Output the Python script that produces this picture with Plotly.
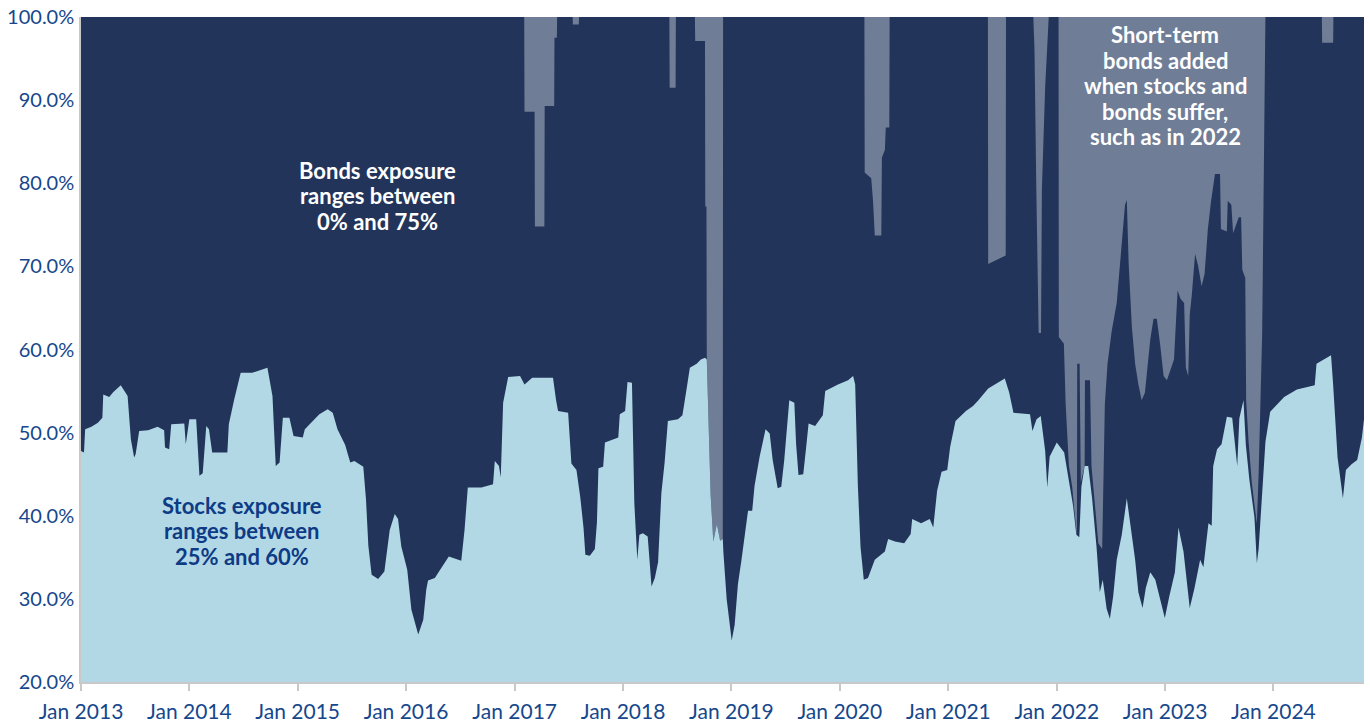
import plotly.graph_objects as go

# ---- Stocks exposure (% of portfolio) ----
stock_dates = [
    "2013-01-01","2013-01-11","2013-01-15","2013-02-05","2013-02-27","2013-03-14","2013-03-17","2013-04-06","2013-04-20","2013-05-15",
    "2013-06-07","2013-06-18","2013-06-29","2013-07-04","2013-07-16","2013-08-15","2013-09-16","2013-10-08","2013-10-11","2013-10-25",
    "2013-11-01","2013-12-15","2013-12-20",
    "2014-01-01","2014-01-24","2014-02-04","2014-02-15","2014-02-27","2014-03-08","2014-03-19","2014-05-09","2014-05-14","2014-06-01",
    "2014-06-23","2014-08-01","2014-09-21","2014-10-08","2014-10-19","2014-11-01","2014-11-12","2014-12-04","2014-12-18",
    "2015-01-18","2015-01-25","2015-03-15","2015-04-12","2015-04-29","2015-05-15","2015-06-10","2015-06-27","2015-07-11","2015-08-10",
    "2015-08-19","2015-08-27","2015-09-07","2015-09-29","2015-10-20","2015-11-07","2015-11-24","2015-12-05","2015-12-16","2015-12-26",
    "2016-01-05","2016-01-19","2016-02-11","2016-02-28","2016-03-09","2016-03-15","2016-04-07","2016-04-21","2016-05-24","2016-07-05",
    "2016-07-16","2016-07-27","2016-09-11","2016-10-20","2016-10-26","2016-11-09","2016-11-15","2016-11-23","2016-12-10",
    "2017-01-19","2017-02-03","2017-03-01","2017-05-10","2017-05-20","2017-05-27","2017-06-30","2017-07-11","2017-07-28","2017-08-10",
    "2017-08-21","2017-08-27","2017-09-11","2017-09-28","2017-10-05","2017-10-10","2017-10-26","2017-11-01","2017-12-16","2017-12-21",
    "2018-01-08","2018-01-16","2018-01-31","2018-02-08","2018-02-18","2018-02-25","2018-03-09","2018-03-25","2018-04-07","2018-04-18",
    "2018-04-29","2018-05-10","2018-05-21","2018-06-01","2018-07-05","2018-07-20","2018-08-01","2018-08-14","2018-09-06","2018-09-20",
    "2018-10-04","2018-10-10","2018-10-23","2018-11-01","2018-11-13","2018-11-24","2018-12-03","2018-12-05","2018-12-16","2018-12-22",
    "2019-01-02","2019-01-12","2019-01-23","2019-02-04","2019-02-15","2019-02-26","2019-03-12","2019-03-20","2019-04-06","2019-04-26",
    "2019-05-10","2019-05-20","2019-06-06","2019-06-18","2019-06-28","2019-07-08","2019-07-15","2019-08-01","2019-08-07","2019-08-15",
    "2019-08-31","2019-09-10","2019-09-18","2019-10-10","2019-11-05","2019-11-13","2019-12-26",
    "2020-01-29","2020-02-15","2020-02-22","2020-03-02","2020-03-11","2020-03-22","2020-04-05","2020-04-28","2020-06-01","2020-06-12",
    "2020-07-05","2020-08-05","2020-08-27","2020-09-01","2020-10-01","2020-10-30","2020-11-11","2020-11-24","2020-12-09","2020-12-28",
    "2021-01-07","2021-01-25","2021-03-01","2021-03-25","2021-04-12","2021-05-15","2021-07-10","2021-07-25","2021-08-08","2021-10-03",
    "2021-10-11","2021-10-25","2021-11-08","2021-11-23","2021-11-30","2021-12-08","2022-01-01",
    "2022-01-26","2022-02-10","2022-02-25","2022-03-08","2022-03-18","2022-03-25","2022-04-05","2022-04-17","2022-04-30","2022-05-15",
    "2022-05-26","2022-06-05","2022-06-18","2022-06-29","2022-07-10","2022-07-22","2022-08-08","2022-08-25","2022-09-05","2022-09-22",
    "2022-10-03","2022-10-17","2022-10-28","2022-11-12","2022-11-29","2022-12-15","2022-12-31",
    "2023-01-15","2023-02-03","2023-02-15","2023-03-04","2023-03-25","2023-04-10","2023-04-29","2023-05-10","2023-05-27","2023-06-07",
    "2023-06-12","2023-06-25","2023-07-10","2023-07-28","2023-08-15","2023-08-25","2023-09-01","2023-09-08","2023-09-22","2023-09-30",
    "2023-10-12","2023-10-29","2023-11-06","2023-11-12","2023-11-23","2023-12-05","2023-12-21",
    "2024-02-06","2024-03-20","2024-05-19","2024-05-25","2024-07-13","2024-07-20","2024-08-04","2024-08-22","2024-09-01","2024-09-20",
    "2024-10-09","2024-10-25","2024-11-01",
]
stock_pct = [
    47.8,47.6,50.4,50.7,51.2,51.8,54.6,54.3,54.9,55.7,
    54.4,49.2,47.0,47.4,50.2,50.3,50.7,50.3,48.2,48.0,
    51.0,51.1,48.6,
    51.6,51.6,44.8,45.1,50.8,50.4,47.6,47.6,51.0,54.0,
    57.2,57.2,57.8,54.4,46.0,46.4,51.8,51.8,49.6,
    49.4,50.4,52.2,52.8,52.4,50.4,48.5,46.4,46.6,45.9,
    42.0,36.4,32.9,32.4,33.3,38.3,40.2,39.6,36.3,34.7,
    33.5,28.7,25.7,27.5,31.1,32.2,32.5,33.3,35.1,34.6,
    38.3,43.4,43.4,43.8,46.6,46.0,44.6,53.6,56.7,
    56.8,55.8,56.6,56.6,54.0,52.6,52.4,46.3,45.5,42.2,
    38.5,35.3,35.2,36.0,39.2,45.7,45.9,48.8,49.4,52.2,
    52.6,56.1,56.0,41.5,34.7,37.7,37.9,37.5,31.5,32.5,
    34.4,42.7,46.4,51.4,51.6,52.1,54.8,57.8,58.3,58.8,
    59.0,58.8,42.5,36.9,39.0,37.0,37.2,35.6,30.0,28.4,
    25.0,26.9,31.8,34.7,37.9,40.6,40.6,43.6,47.1,50.4,
    49.9,46.7,43.3,43.5,46.7,50.4,53.9,53.6,48.6,44.9,
    45.0,48.3,51.1,50.8,52.1,55.0,55.8,
    56.3,56.8,55.8,43.6,36.2,32.3,32.5,34.7,35.7,37.2,
    36.9,36.7,37.8,39.6,39.1,39.6,38.6,43.0,45.3,45.5,
    48.3,51.4,52.6,53.2,53.9,55.3,56.5,54.8,52.4,52.2,
    50.2,51.6,52.0,47.8,43.4,47.1,48.8,
    47.6,44.4,41.2,37.7,37.4,43.5,46.0,46.0,42.1,36.2,
    30.8,32.3,28.8,27.6,30.3,34.7,37.7,42.1,39.1,34.7,
    30.8,28.9,31.3,33.2,32.3,29.8,27.7,
    30.3,33.2,38.6,35.7,28.9,31.3,34.7,33.8,39.1,38.8,
    46.0,48.0,48.6,51.9,51.8,48.4,46.0,51.7,53.9,48.5,
    44.3,39.8,34.3,36.0,42.8,48.9,52.5,
    54.3,55.2,55.7,58.3,59.3,55.8,47.0,42.1,45.5,46.2,
    46.7,49.4,51.6,
]

# ---- Short-term bonds exposure (% of portfolio) ----
st_dates = [
    "2013-01-01",
    "2017-02-02","2017-02-03","2017-03-09","2017-03-10","2017-04-11","2017-04-12","2017-05-14","2017-05-15","2017-05-23","2017-05-24",
    "2017-07-15","2017-07-16","2017-08-05","2017-08-06",
    "2018-06-06","2018-06-07","2018-06-27","2018-06-28",
    "2018-08-31","2018-09-01","2018-10-04","2018-10-05","2018-10-09","2018-10-10","2018-10-23","2018-11-01","2018-11-13","2018-11-24",
    "2018-12-03","2018-12-04",
    "2020-03-24","2020-03-25","2020-04-16","2020-04-22","2020-04-28","2020-05-20","2020-05-22","2020-06-01","2020-06-04","2020-06-16",
    "2020-06-17",
    "2021-05-14","2021-05-15","2021-07-13","2021-07-14",
    "2021-10-14","2021-10-18","2021-10-24","2021-11-01","2021-11-09","2021-11-12","2021-11-23","2021-12-04","2021-12-05",
    "2022-01-07","2022-01-08","2022-01-25","2022-01-31","2022-02-11","2022-02-22","2022-02-28","2022-03-08","2022-03-10","2022-03-11",
    "2022-03-19","2022-03-23","2022-04-05","2022-04-06","2022-04-23","2022-04-28","2022-05-09","2022-05-21","2022-06-03","2022-06-12",
    "2022-06-21","2022-07-05","2022-07-22","2022-08-08","2022-08-19","2022-08-25","2022-08-31","2022-09-11","2022-09-22","2022-10-03",
    "2022-10-14","2022-10-25","2022-11-12","2022-11-23","2022-12-04","2022-12-15","2022-12-27",
    "2023-01-07","2023-01-31","2023-02-12","2023-02-22","2023-03-06","2023-03-12","2023-03-20","2023-03-25","2023-04-01","2023-04-12",
    "2023-04-22","2023-05-04","2023-05-14","2023-05-25","2023-06-05","2023-06-18","2023-07-05","2023-07-08","2023-07-28","2023-07-31",
    "2023-08-12","2023-08-18","2023-09-06","2023-09-14","2023-09-18","2023-09-28","2023-10-01","2023-10-09","2023-10-20","2023-10-29",
    "2023-11-06","2023-11-12","2023-11-18","2023-11-24","2023-12-04","2023-12-05",
    "2024-06-12","2024-06-13","2024-07-20","2024-07-21","2024-11-01",
]
st_pct = [
    0,
    0,11.4,11.4,25.2,25.2,10.7,10.7,2.5,2.5,0,
    0,0.9,0.9,0,
    0,8.5,8.5,0,
    0,2.9,2.9,22.8,22.8,41.2,57.5,63.1,61.0,63.0,
    62.8,0,
    0,18.7,19.4,22.1,26.3,26.3,16.9,16.0,13.3,13.3,
    0,
    0,29.7,28.7,0,
    0,3.9,20.4,38.0,38.0,20.7,8.4,0.5,0,
    0,38.5,39.3,46.6,54.0,56.5,58.9,62.3,62.4,41.7,
    41.7,56.0,54.0,43.7,43.7,54.0,58.9,63.3,64.0,46.6,
    41.7,37.8,34.4,27.5,22.6,22.0,29.5,37.3,41.7,44.2,
    46.1,45.2,38.8,36.3,36.3,39.3,43.2,
    43.7,41.2,32.9,33.9,34.4,42.2,43.2,35.8,33.4,28.5,
    29.9,32.4,30.9,25.5,22.1,18.9,18.9,25.5,25.8,22.1,
    22.6,26.0,24.1,24.1,30.4,31.4,46.1,51.0,56.0,59.0,
    61.0,55.0,45.0,38.0,3.0,0,
    0,3.1,3.1,0,0,
]

y_ticks = [20, 30, 40, 50, 60, 70, 80, 90, 100]
y_tick_text = [f"{v:.1f}%" for v in y_ticks]

bonds_note = ["Bonds exposure", "ranges between", "0% and 75%"]
stocks_note = ["Stocks exposure", "ranges between", "25% and 60%"]
short_note = ["Short-term", "bonds added", "when stocks and", "bonds suffer,", "such as in 2022"]

NAVY = "#22345a"
GRAY = "#6f7d96"
LIGHT = "#b2d8e5"
TICK = "#16478c"
DARKTXT = "#0d3b85"
AXIS = "#c8c8c8"
FONT = "Lato"

fig = go.Figure()
# Bonds: fill the remaining share of the portfolio (100% total)
fig.add_trace(go.Scatter(x=stock_dates, y=[100] * len(stock_dates), mode="lines",
                         line=dict(width=0), fill="tozeroy", fillcolor=NAVY,
                         name="Bonds", hoverinfo="skip"))
# Short-term bonds: band hanging from 100% down by their share
fig.add_trace(go.Scatter(x=st_dates, y=[100] * len(st_dates), mode="lines",
                         line=dict(width=0), showlegend=False, hoverinfo="skip"))
fig.add_trace(go.Scatter(x=st_dates, y=[100 - v for v in st_pct], mode="lines",
                         line=dict(width=0), fill="tonexty", fillcolor=GRAY,
                         name="Short-term bonds"))
# Stocks
fig.add_trace(go.Scatter(x=stock_dates, y=stock_pct, mode="lines",
                         line=dict(width=0), fill="tozeroy", fillcolor=LIGHT,
                         name="Stocks"))

ANN = 22
LINE_GAP = 25.5


def add_block(x, y, lines, color):
    n = len(lines)
    for i, line in enumerate(lines):
        fig.add_annotation(x=x, y=y, xref="x", yref="y", showarrow=False,
                           text=f"<b>{line}</b>", yshift=-(i - (n - 1) / 2) * LINE_GAP,
                           font=dict(family=FONT, size=ANN, color=color),
                           xanchor="center", yanchor="middle")


add_block("2015-09-27", 78.5, bonds_note, "white")
add_block("2014-06-29", 38.2, stocks_note, DARKTXT)
add_block("2023-01-02", 91.7, short_note, "white")

fig.update_layout(
    width=1370, height=724,
    margin=dict(l=81, r=6, t=17, b=42, autoexpand=False),
    paper_bgcolor="white", plot_bgcolor="white",
    showlegend=False,
    font=dict(family=FONT, color=TICK),
)
fig.update_xaxes(
    type="date", range=["2013-01-01", "2024-11-01"],
    tick0="2013-01-01", dtick="M12", tickformat="%b %Y",
    showgrid=False, zeroline=False, automargin=False,
    showline=True, linecolor=AXIS, linewidth=1.5,
    ticks="outside", ticklen=7, tickcolor=AXIS, tickwidth=1.5,
    ticklabelstandoff=3,
    tickfont=dict(family=FONT, size=21, color=TICK),
)
fig.update_yaxes(
    range=[20, 100], tickvals=y_ticks, ticktext=y_tick_text,
    showgrid=False, zeroline=False, automargin=False,
    showline=True, linecolor=AXIS, linewidth=1.5,
    ticks="", ticklabelstandoff=1,
    tickfont=dict(family=FONT, size=20, color=TICK),
)

fig.write_html("out.html")
